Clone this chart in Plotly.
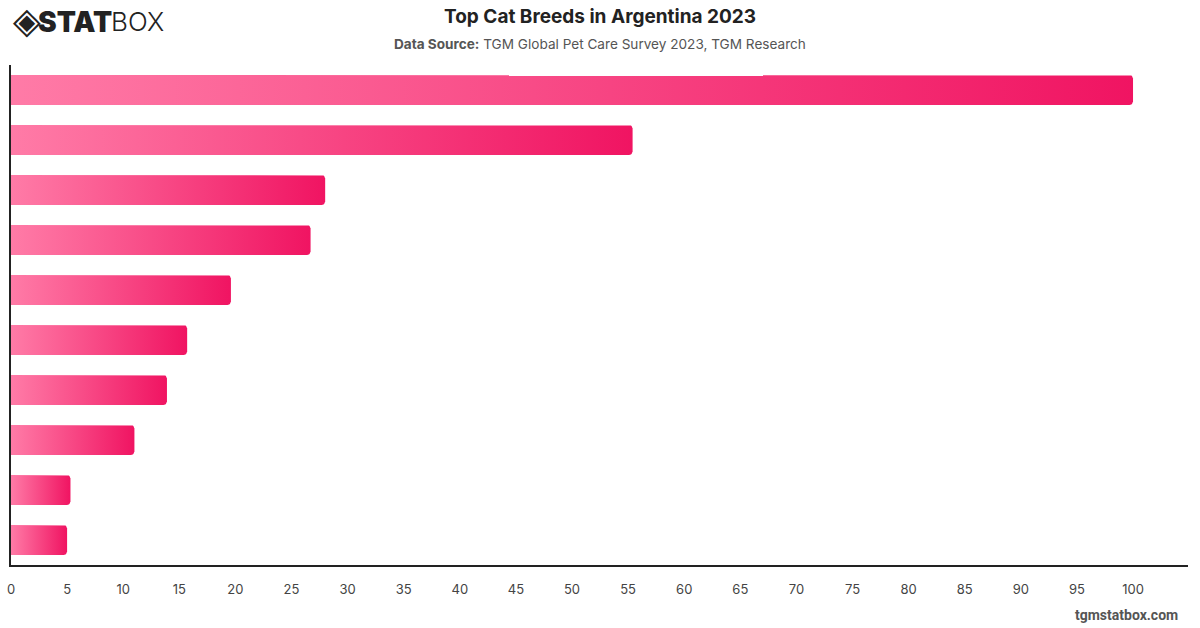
import math
import plotly.graph_objects as go

# Data (category labels are not shown in the reference)
breeds = ["Breed 1", "Breed 2", "Breed 3", "Breed 4", "Breed 5",
          "Breed 6", "Breed 7", "Breed 8", "Breed 9", "Breed 10"]
values = [100, 55.4, 28.0, 26.7, 19.6, 15.7, 13.9, 11.0, 5.3, 5.0]
x_ticks = list(range(0, 101, 5))

LIGHT = "#ff7ba7"
DEEP = "#f01462"
BAR_HALF = 0.3

W, H = 1200, 628
ML, MR, MT, MB = 11, 12, 65, 63
X_MAX = 104.9
plot_w = W - ML - MR
plot_h = H - MT - MB
px_per_x = plot_w / X_MAX
px_per_y = plot_h / len(values)
R = 3.5  # corner radius in px
rx, ry = R / px_per_x, R / px_per_y

fig = go.Figure()
for i, (name, v) in enumerate(zip(breeds, values)):
    y0, y1 = i - BAR_HALF, i + BAR_HALF
    xs = [0, v - rx]
    ys = [y0, y0]
    for k in range(7):
        a = -math.pi / 2 + k * (math.pi / 2) / 6
        xs.append(v - rx + rx * math.cos(a)); ys.append(y0 + ry + ry * math.sin(a))
    for k in range(7):
        a = k * (math.pi / 2) / 6
        xs.append(v - rx + rx * math.cos(a)); ys.append(y1 - ry + ry * math.sin(a))
    xs += [0, 0]
    ys += [y1, y0]
    fig.add_trace(go.Scatter(
        x=xs, y=ys, mode="lines", fill="toself", name=name,
        line=dict(width=0, color=DEEP),
        fillgradient=dict(type="horizontal",
                          colorscale=[[0, LIGHT], [1, DEEP]]),
        hoverinfo="text", text=f"{name}: {v}", showlegend=False,
    ))

fig.update_layout(
    width=W, height=H,
    margin=dict(l=ML, r=MR, t=MT, b=MB),
    paper_bgcolor="white", plot_bgcolor="white",
    font=dict(family="Inter, Roboto, sans-serif", color="#444"),
    xaxis=dict(range=[0, X_MAX], tickvals=x_ticks, ticktext=[str(t) for t in x_ticks],
               showgrid=False, zeroline=False, showline=True, linecolor="#222",
               linewidth=1.5, ticks="", tickfont=dict(size=13, color="#444"),
               ticklabelstandoff=12, automargin=False),
    yaxis=dict(range=[9.5, -0.5], showticklabels=False, showgrid=False,
               zeroline=False, showline=True, linecolor="#222", linewidth=1.5,
               ticks="", automargin=False),
)


def px_to_paper_x(px):
    return (px - ML) / plot_w


def px_to_paper_y(py):
    return (H - MB - py) / plot_h


fig.add_annotation(text="<b>Top Cat Breeds in Argentina 2023</b>",
                   x=px_to_paper_x(600), y=px_to_paper_y(17), xref="paper", yref="paper",
                   showarrow=False, xanchor="center", yanchor="middle",
                   font=dict(size=19, color="#222", family="Inter, sans-serif"))
fig.add_annotation(text="<b>Data Source:</b> TGM Global Pet Care Survey 2023, TGM Research",
                   x=px_to_paper_x(600), y=px_to_paper_y(44), xref="paper", yref="paper",
                   showarrow=False, xanchor="center", yanchor="middle",
                   font=dict(size=13.6, color="#555", family="Inter, sans-serif"))
fig.add_annotation(text="<b>tgmstatbox.com</b>",
                   x=px_to_paper_x(1180), y=px_to_paper_y(615), xref="paper", yref="paper",
                   showarrow=False, xanchor="right", yanchor="middle",
                   font=dict(size=14, color="#555", family="Roboto, sans-serif"))
# Logo
fig.add_annotation(text="◈", x=px_to_paper_x(11), y=px_to_paper_y(21), xref="paper", yref="paper",
                   showarrow=False, xanchor="left", yanchor="middle",
                   font=dict(size=36, color="#222", family="DejaVu Sans"))
fig.add_annotation(text="STAT", x=px_to_paper_x(36), y=px_to_paper_y(22), xref="paper", yref="paper",
                   showarrow=False, xanchor="left", yanchor="middle",
                   font=dict(size=28, color="#222", family="Inter, sans-serif", weight=900))
fig.add_annotation(text="BOX", x=px_to_paper_x(109), y=px_to_paper_y(22), xref="paper", yref="paper",
                   showarrow=False, xanchor="left", yanchor="middle",
                   font=dict(size=26, color="#222", family="Inter, sans-serif", weight=300))

fig.write_html("out.html")
